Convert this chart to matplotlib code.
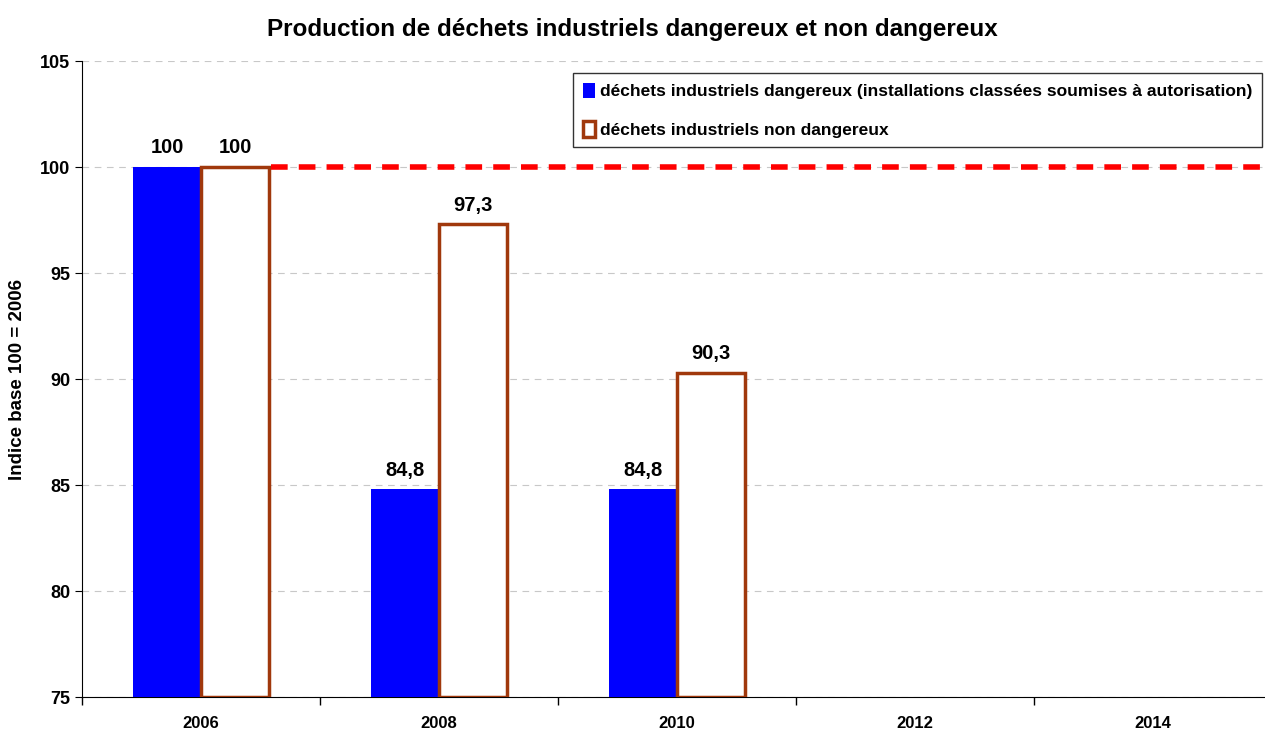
import numpy as np
import matplotlib
matplotlib.use("Agg")
import matplotlib.pyplot as plt

plt.rcParams["font.family"] = ["Liberation Sans", "DejaVu Sans"]
plt.rcParams["font.weight"] = "bold"

# ============================================================
# DATA
# ============================================================
years = ["2006", "2008", "2010", "2012", "2014"]
dangereux = [100, 84.8, 84.8]
non_dangereux = [100, 97.3, 90.3]
base_value = 100

label_dangereux = "déchets industriels dangereux (installations classées soumises à autorisation)"
label_non_dangereux = "déchets industriels non dangereux"


def fr(v):
    s = f"{v:g}"
    return s.replace(".", ",")


# ============================================================
# PLOT
# ============================================================
fig = plt.figure(figsize=(12.65, 7.32), dpi=100)
ax = fig.add_axes([82 / 1265, 1 - 697 / 732, (1272 - 82) / 1265, (697 - 61) / 732])

width = 0.286
x1 = np.arange(len(dangereux)) - width / 2
x2 = np.arange(len(non_dangereux)) + width / 2

ax.bar(x1, np.array(dangereux) - 75, bottom=75, width=width,
       color="#0000FF", edgecolor="#0000FF", linewidth=0, zorder=3,
       label=label_dangereux)
ax.bar(x2, np.array(non_dangereux) - 75, bottom=75, width=width,
       color="white", edgecolor="#A0380C", linewidth=2.5, zorder=3,
       label=label_non_dangereux)

for xs, vals in [(x1, dangereux), (x2, non_dangereux)]:
    for x, v in zip(xs, vals):
        ax.text(x, v + 0.45, fr(v), ha="center", va="bottom",
                fontsize=14.5, fontweight="bold")

# reference level
ax.hlines(base_value, x2[0] + width / 2 + 0.01, len(years) - 0.5,
          colors="#FF0000", linewidth=4, linestyles=(0, (3, 2)), zorder=4)

ax.set_xlim(-0.5, len(years) - 0.5)
ax.set_ylim(75, 105)
ax.set_yticks(np.arange(75, 106, 5))
ax.set_xticks(np.arange(len(years)))
ax.set_xticklabels(years)
ax.set_xticks(np.arange(len(years) + 1) - 0.5, minor=True)
ax.tick_params(axis="x", which="major", length=0, pad=14, labelsize=12)
ax.tick_params(axis="x", which="minor", length=6, width=1)
ax.tick_params(axis="y", length=5, labelsize=13)

ax.yaxis.grid(True, color="#C8C8C8", linestyle=(0, (6, 5)), linewidth=0.8, zorder=0)
ax.set_axisbelow(True)
for s in ["top", "right"]:
    ax.spines[s].set_visible(False)

ax.set_ylabel("Indice base 100 = 2006", fontsize=13.5, fontweight="bold", labelpad=10)
fig.suptitle("Production de déchets industriels dangereux et non dangereux",
             fontsize=17.5, fontweight="bold", y=0.975)

leg = ax.legend(loc="upper right", bbox_to_anchor=((1262 - 82) / 1190, 1.0 - 12 / 636),
                fontsize=12.5, frameon=True, fancybox=False, handlelength=0.7,
                handleheight=1.0, handletextpad=0.3, labelspacing=1.25,
                borderpad=0.55, borderaxespad=0)
leg.get_frame().set_edgecolor("black")
leg.get_frame().set_linewidth(1)

fig.savefig("out.png", dpi=100)
